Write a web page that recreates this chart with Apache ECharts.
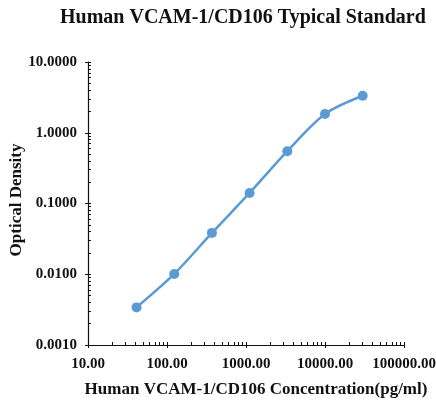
<!DOCTYPE html>
<html>
<head>
<meta charset="utf-8">
<script src="https://cdn.jsdelivr.net/npm/echarts@6/dist/echarts.min.js"></script>
<style>
html,body{margin:0;padding:0;background:#fff;}
#main{width:436px;height:403px;}
</style>
</head>
<body>
<div id="main"></div>
<script>
var concentration = [41.15, 123.5, 370.4, 1111, 3333, 10000, 30000];
var opticalDensity = [0.0034, 0.0101, 0.0384, 0.141, 0.549, 1.84, 3.33];
var xTickValues = [10, 100, 1000, 10000, 100000];
var yTickValues = [0.001, 0.01, 0.1, 1, 10];
var titleText = 'Human VCAM-1/CD106 Typical Standard';
var xName = 'Human VCAM-1/CD106 Concentration(pg/ml)';
var yName = 'Optical Density';

function minorTicks(majors) {
  var out = [];
  for (var i = 0; i < majors.length - 1; i++) {
    for (var k = 1; k <= 9; k++) out.push(majors[i] * k);
  }
  out.push(majors[majors.length - 1]);
  return out;
}

var serif = '"Liberation Serif", "Times New Roman", serif';
var chart = echarts.init(document.getElementById('main'), null, {renderer: 'canvas'});
var axisCommon = {
  type: 'log', logBase: 10, gridIndex: 0
};
chart.setOption({
  animation: false,
  backgroundColor: '#ffffff',
  title: {
    text: titleText,
    left: 60, top: 8,
    padding: 0,
    textStyle: {fontFamily: serif, fontWeight: 'bold', fontSize: 20, color: '#111'}
  },
  graphic: [{
    type: 'text',
    x: 17, y: 200,
    rotation: Math.PI / 2,
    style: {
      text: yName, align: 'center', verticalAlign: 'middle',
      fontFamily: serif, fontWeight: 'bold', fontSize: 17, fill: '#111'
    }
  }],
  grid: {left: 88, right: 32, top: 62, bottom: 58, containLabel: false, outerBoundsMode: 'none'},
  xAxis: [
    Object.assign({}, axisCommon, {
      min: 10, max: 100000, position: 'bottom',
      name: xName, nameLocation: 'middle', nameGap: 36, nameMoveOverlap: false,
      nameTextStyle: {fontFamily: serif, fontWeight: 'bold', fontSize: 17, color: '#111', padding: [0, 0, 0, 20]},
      axisLine: {show: true, onZero: false, lineStyle: {color: '#111', width: 1.2}},
      axisTick: {show: true, inside: false, length: 3, customValues: xTickValues, lineStyle: {color: '#111'}},
      axisLabel: {customValues: xTickValues, margin: 12, fontFamily: serif, fontWeight: 'bold', fontSize: 15, color: '#111',
        formatter: function (v) { return Number(v).toFixed(2); }},
      splitLine: {show: false}
    }),
    Object.assign({}, axisCommon, {
      min: 10, max: 100000, position: 'bottom',
      axisLine: {show: false},
      axisTick: {show: true, inside: true, length: 3, customValues: minorTicks(xTickValues), lineStyle: {color: '#111'}},
      axisLabel: {show: false},
      splitLine: {show: false}
    })
  ],
  yAxis: [
    Object.assign({}, axisCommon, {
      min: 0.001, max: 10, position: 'left',
      axisLine: {show: true, onZero: false, lineStyle: {color: '#111', width: 1.2}},
      axisTick: {show: true, inside: false, length: 3, customValues: yTickValues, lineStyle: {color: '#111'}},
      axisLabel: {customValues: yTickValues, margin: 11, fontFamily: serif, fontWeight: 'bold', fontSize: 15, color: '#111',
        formatter: function (v) { return Number(v).toFixed(4); }},
      splitLine: {show: false}
    }),
    Object.assign({}, axisCommon, {
      min: 0.001, max: 10, position: 'left',
      axisLine: {show: false},
      axisTick: {show: true, inside: true, length: 3, customValues: minorTicks(yTickValues), lineStyle: {color: '#111'}},
      axisLabel: {show: false},
      splitLine: {show: false}
    })
  ],
  series: [{
    type: 'line',
    xAxisIndex: 0, yAxisIndex: 0,
    data: concentration.map(function (c, i) { return [c, opticalDensity[i]]; }),
    smooth: 0.3,
    symbol: 'circle', symbolSize: 10,
    lineStyle: {color: '#5b9bd5', width: 2.5},
    itemStyle: {color: '#5b9bd5'}
  }]
});
</script>
</body>
</html>
